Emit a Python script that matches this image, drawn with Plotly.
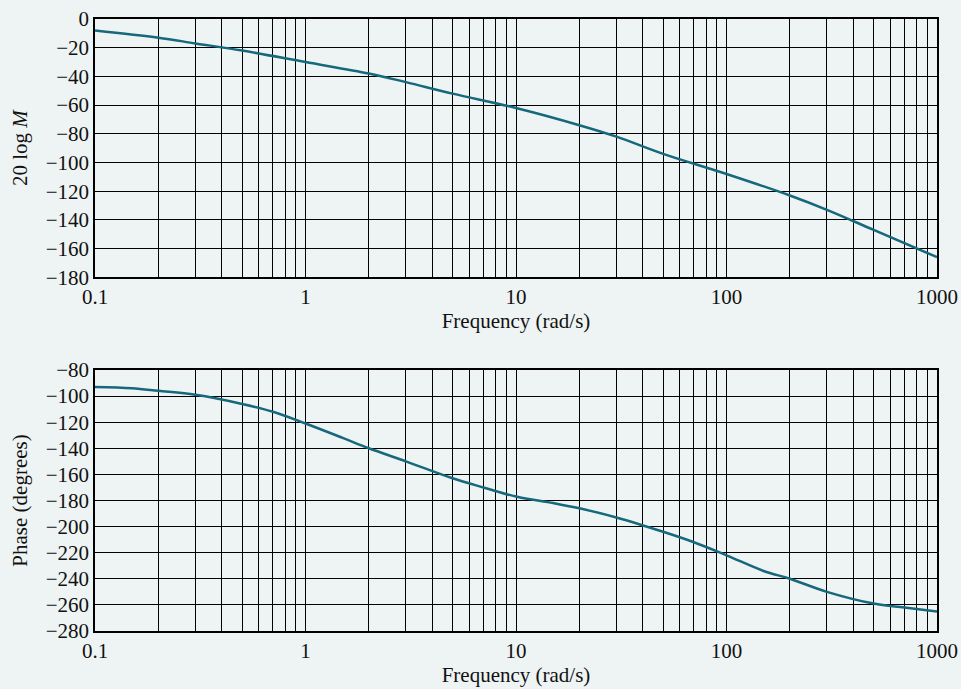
import plotly.graph_objects as go
from plotly.subplots import make_subplots

freq_mag = [0.1, 0.2, 0.3, 0.5, 1, 2, 3, 5, 10, 20, 30, 50, 100, 200, 300, 500, 1000]
mag_db = [-8, -13, -17, -22, -30, -38, -44, -52, -62, -74, -82, -94, -108, -123, -133, -147, -166]

freq_ph = [0.1, 0.15, 0.2, 0.3, 0.5, 0.7, 1, 1.5, 2, 3, 5, 7, 10, 15, 20, 30, 50, 70, 100, 150, 200, 300, 500, 700, 1000]
phase_deg = [-93, -94, -96, -99, -106, -112, -121, -132, -140, -150, -163, -170, -177, -182, -186, -193, -204, -212, -222, -234, -240, -250, -259, -262, -265]

x_tickvals = [0.1, 1, 10, 100, 1000]
x_ticktext = ["0.1", "1", "10", "100", "1000"]
x_grid = [m * 10 ** e for e in range(-1, 3) for m in range(1, 10)] + [1000]

bg = "#eef4f4"
line_color = "#16687c"
fam = "Liberation Serif"
font = dict(family=fam, size=21, color="#111111")

fig = make_subplots(rows=2, cols=1, vertical_spacing=0.15)
fig.add_trace(go.Scatter(x=freq_mag, y=mag_db, mode="lines", line=dict(color=line_color, width=2.5, shape="spline"),
                         showlegend=False), row=1, col=1)
fig.add_trace(go.Scatter(x=freq_ph, y=phase_deg, mode="lines", line=dict(color=line_color, width=2.5, shape="spline"),
                         showlegend=False), row=2, col=1)

xaxis_common = dict(type="log", range=[-1, 3], tickvals=x_tickvals, ticktext=x_ticktext,
                    showgrid=False, zeroline=False, showline=True, linecolor="black", linewidth=1.5,
                    mirror=True, ticks="", title_text="Frequency (rad/s)", title_standoff=5,
                    tickfont=font, title_font=font, automargin=False,
                    minor=dict(tickvals=x_grid, showgrid=True, gridcolor="black", gridwidth=1, ticks=""))
for r in (1, 2):
    fig.update_xaxes(row=r, col=1, **xaxis_common)

yaxis_common = dict(dtick=20, tick0=0, showgrid=True, gridcolor="black", gridwidth=1,
                    zeroline=False, showline=True, linecolor="black", linewidth=1.5, mirror=True, ticks="",
                    tickfont=font, title_font=font, title_standoff=12, automargin=False)
fig.update_yaxes(row=1, col=1, range=[-180, 0], title_text="20 log <i>M</i>", **yaxis_common)
fig.update_yaxes(row=2, col=1, range=[-280, -80], title_text="Phase (degrees)", **yaxis_common)

fig.update_layout(width=961, height=689, paper_bgcolor=bg, plot_bgcolor=bg, font=font,
                  margin=dict(l=95, r=24, t=19, b=58))
fig.layout.yaxis.domain = [0.578, 1.0]
fig.layout.yaxis2.domain = [0.0, 0.4265]

fig.write_html("out.html", config={"displayModeBar": False},
               post_script="document.body.style.margin='0';document.body.style.background='#eef4f4';")
